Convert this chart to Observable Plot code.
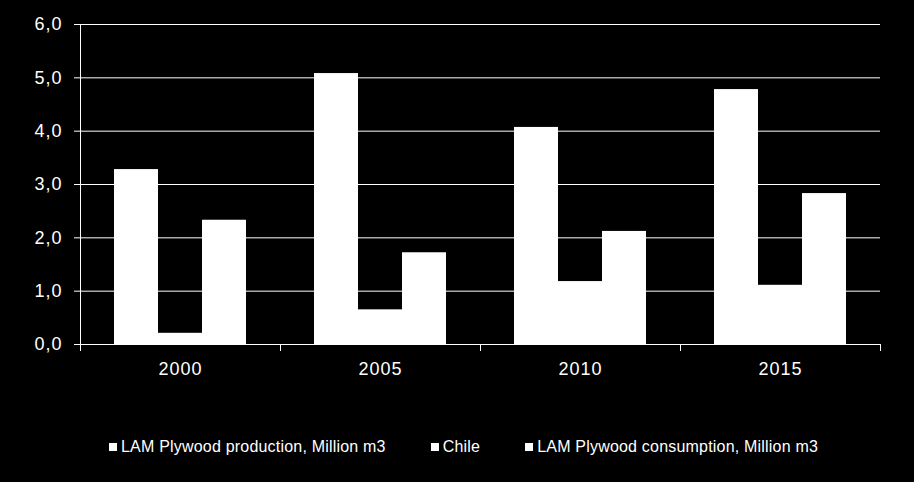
<!DOCTYPE html>
<html><head><meta charset="utf-8">
<script src="https://cdn.jsdelivr.net/npm/d3@7"></script>
<script src="https://cdn.jsdelivr.net/npm/@observablehq/plot@0.6"></script>
<style>
html,body{margin:0;padding:0;background:#000;}
#chart{width:914px;height:482px;position:relative;background:#000;font-family:"Liberation Sans",Arial,sans-serif;overflow:hidden;}
#chart svg{display:block;}
#legend{position:absolute;left:109px;top:437px;display:flex;gap:45px;color:#fff;font-size:16px;line-height:20px;white-space:nowrap;}
#legend .item{display:flex;align-items:center;gap:4px;letter-spacing:0.2px;}
#legend .sw{width:8px;height:8px;background:#fff;display:inline-block;}
</style></head>
<body>
<div id="chart"></div>
<script>
const years = ["2000", "2005", "2010", "2015"];
const seriesNames = ["LAM Plywood production, Million m3", "Chile", "LAM Plywood consumption, Million m3"];
const production = [3.28, 5.08, 4.07, 4.78];
const chile = [0.21, 0.65, 1.18, 1.11];
const consumption = [2.33, 1.72, 2.12, 2.83];
const yTicks = [0, 1, 2, 3, 4, 5, 6];
const seriesColors = ["#ffffff", "#ffffff", "#ffffff"];

const seriesValues = [production, chile, consumption];
const rows = [];
years.forEach((yr, i) => {
  seriesValues.forEach((arr, j) => rows.push({year: yr, series: seriesNames[j], value: arr[i]}));
});

const plot = Plot.plot({
  width: 914, height: 390,
  marginLeft: 79, marginRight: 34, marginTop: 24, marginBottom: 46,
  style: {background: "#000", color: "#fff", fontFamily: "'Liberation Sans', Arial, sans-serif", fontSize: "18px", letterSpacing: "1px", overflow: "visible"},
  fx: {domain: years, padding: 0, label: null},
  x: {domain: seriesNames, paddingInner: 0, paddingOuter: 0.75, axis: null},
  y: {domain: [0, 6], label: null},
  color: {domain: seriesNames, range: seriesColors},
  marks: [
    Plot.gridY(yTicks, {stroke: "#fff", strokeOpacity: 1, strokeWidth: 1}),
    Plot.barY(rows, {fx: "year", x: "series", y: "value", fill: "series"}),
    Plot.frame({anchor: "left", facetAnchor: "left", stroke: "#fff", strokeWidth: 1, insetBottom: -6}),
    Plot.frame({anchor: "right", stroke: "#fff", strokeWidth: 1, insetTop: 320, insetBottom: -6}),
    Plot.axisY(yTicks, {tickSize: 6, tickPadding: 12, tickFormat: d => d.toFixed(1).replace(".", ","), label: null, fontSize: 18, stroke: "#fff"}),
    Plot.axisFx({anchor: "bottom", tickSize: 0, tickPadding: 18, label: null, fontSize: 18})
  ]
});
const chart = document.getElementById("chart");
chart.appendChild(plot);

const legend = document.createElement("div");
legend.id = "legend";
seriesNames.forEach((name, j) => {
  const item = document.createElement("div");
  item.className = "item";
  const sw = document.createElement("span");
  sw.className = "sw";
  sw.style.background = seriesColors[j];
  const t = document.createElement("span");
  t.textContent = name;
  item.appendChild(sw);
  item.appendChild(t);
  legend.appendChild(item);
});
chart.appendChild(legend);
</script>
</body></html>
